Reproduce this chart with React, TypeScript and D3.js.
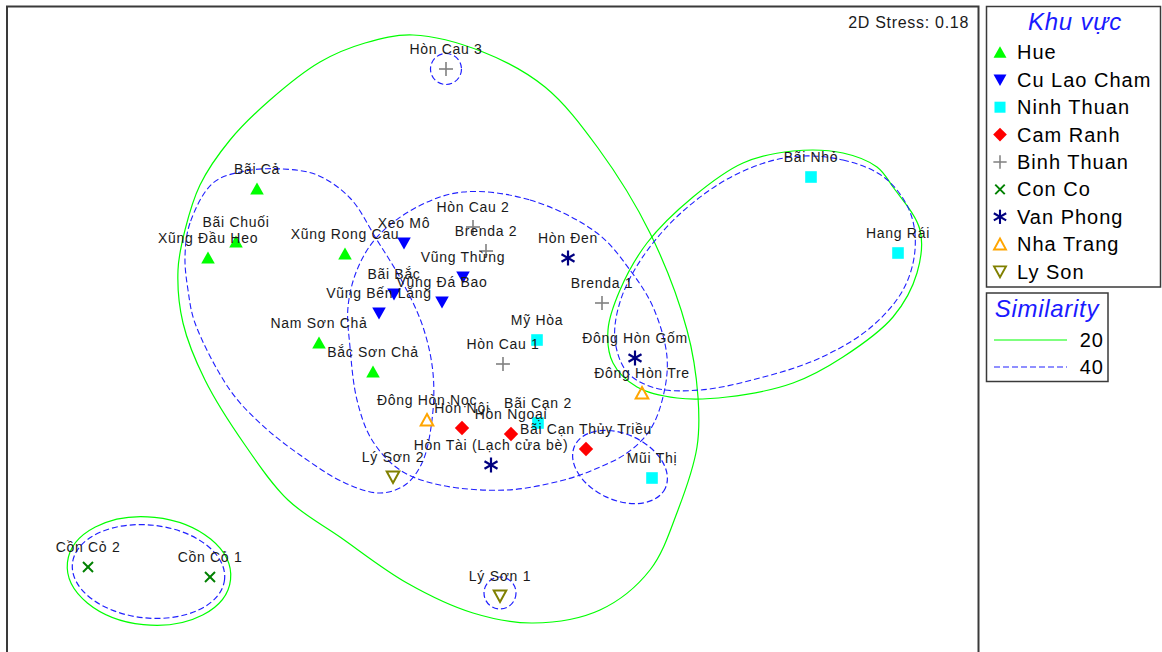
import React from 'react';
import * as d3 from 'd3';

// ---------- DATA ----------
const groupNames = ['Hue', 'Cu Lao Cham', 'Ninh Thuan', 'Cam Ranh', 'Binh Thuan', 'Con Co', 'Van Phong', 'Nha Trang', 'Ly Son'];

const siteNames = [
  'Bãi Cả', 'Bãi Chuối', 'Xũng Đầu Heo', 'Xũng Rong Cau', 'Nam Sơn Chả', 'Bắc Sơn Chả',
  'Xeo Mô', 'Bãi Bắc', 'Vũng Bến Lăng', 'Vũng Đá Bao', 'Vũng Thừng',
  'Mỹ Hòa', 'Bãi Nhỏ', 'Hang Rái', 'Mũi Thị', 'Bãi Cạn 2',
  'Hòn Nội', 'Hòn Ngoại', 'Bãi Cạn Thủy Triều',
  'Hòn Cau 3', 'Hòn Cau 2', 'Brenda 2', 'Brenda 1', 'Hòn Cau 1',
  'Cồn Cỏ 1', 'Cồn Cỏ 2',
  'Hòn Đen', 'Đông Hòn Gốm', 'Hòn Tài (Lạch cửa bè)',
  'Đông Hòn Nọc', 'Đông Hòn Tre',
  'Lý Sơn 2', 'Lý Sơn 1',
];
const siteGroups = [
  0, 0, 0, 0, 0, 0,
  1, 1, 1, 1, 1,
  2, 2, 2, 2, 2,
  3, 3, 3,
  4, 4, 4, 4, 4,
  5, 5,
  6, 6, 6,
  7, 7,
  8, 8,
];
const dim1 = [
  -2.43, -2.64, -2.92, -1.55, -1.81, -1.27,
  -0.96, -1.06, -1.21, -0.58, -0.37,
  0.37, 3.11, 3.98, 1.52, 0.38,
  -0.38, 0.11, 0.86,
  -0.54, -0.27, -0.14, 1.02, 0.03,
  -2.90, -4.12,
  0.68, 1.35, -0.09,
  -0.73, 1.42,
  -1.07, 0.0,
];
const dim2 = [
  1.41, 0.88, 0.72, 0.76, -0.13, -0.42,
  0.87, 0.36, 0.17, 0.28, 0.53,
  -0.10, 1.53, 0.77, -1.48, -0.93,
  -0.98, -1.04, -1.19,
  2.61, 1.03, 0.79, 0.27, -0.34,
  -2.47, -2.37,
  0.72, -0.28, -1.35,
  -0.90, -0.63,
  -1.47, -2.66,
];

const stressText = '2D Stress: 0.18';
const legendTitle = 'Khu vực';
const similarityTitle = 'Similarity';
const similarityLevels = ['20', '40'];

// Similarity contours (MDS units), smooth closed outlines
const contour20Outlines: [number, number][][] = [
  [
    [-0.87, 2.95], [-0.17, 2.78], [0.45, 2.43], [0.98, 1.82], [1.50, 0.97], [1.87, 0.0],
    [1.98, -0.67], [1.97, -1.17], [1.78, -1.80], [1.50, -2.40], [1.00, -2.80], [0.33, -2.93],
    [-0.27, -2.83], [-0.93, -2.53], [-1.60, -2.07], [-2.12, -1.70], [-2.55, -1.15], [-2.95, -0.50],
    [-3.17, 0.07], [-3.22, 0.60], [-3.15, 1.00], [-3.00, 1.45], [-2.70, 1.90], [-2.30, 2.30],
    [-1.80, 2.68], [-1.35, 2.87],
  ],
  [
    [2.93, 1.79], [3.43, 1.77], [3.77, 1.63], [3.93, 1.43], [4.20, 1.00], [4.17, 0.57],
    [3.93, 0.13], [3.43, -0.27], [2.93, -0.53], [2.27, -0.67], [1.77, -0.68], [1.37, -0.57],
    [1.13, -0.33], [1.08, 0.0], [1.20, 0.40], [1.47, 0.87], [1.93, 1.33], [2.43, 1.67],
  ],
];
const contour40Outlines: [number, number][][] = [
  [
    [-2.87, 1.47], [-3.10, 1.07], [-3.15, 0.73], [-3.12, 0.40], [-3.05, 0.07], [-2.70, -0.60],
    [-2.38, -0.95], [-2.00, -1.25], [-1.55, -1.53], [-1.20, -1.63], [-0.95, -1.55], [-0.78, -1.33],
    [-0.68, -0.90], [-0.67, -0.43], [-0.77, 0.03], [-0.97, 0.47], [-1.23, 0.90], [-1.50, 1.32],
    [-1.83, 1.55], [-2.17, 1.61], [-2.55, 1.59],
  ],
  [
    [-0.37, 1.38], [0.30, 1.30], [0.97, 0.97], [1.30, 0.60], [1.53, 0.23], [1.67, -0.27],
    [1.63, -0.67], [1.50, -1.00], [1.27, -1.23], [0.93, -1.40], [0.60, -1.51], [0.07, -1.60],
    [-0.60, -1.55], [-1.00, -1.40], [-1.28, -1.10], [-1.43, -0.70], [-1.50, -0.17], [-1.52, 0.23],
    [-1.43, 0.60], [-1.23, 0.93], [-0.83, 1.23],
  ],
  [
    [2.90, 1.73], [3.43, 1.70], [3.85, 1.52], [4.10, 1.18], [4.15, 0.80], [4.03, 0.40],
    [3.70, 0.02], [3.20, -0.28], [2.60, -0.48], [2.00, -0.60], [1.55, -0.58], [1.27, -0.42],
    [1.15, -0.10], [1.20, 0.28], [1.42, 0.72], [1.82, 1.18], [2.35, 1.55],
  ],
];
// elliptical contours: centre, radii (MDS units), tilt (deg)
const contour20Ellipses = [
  { cx: -3.51, cy: -2.41, rx: 0.82, ry: 0.54, tilt: 6 },
];
const contour40Ellipses = [
  { cx: -3.515, cy: -2.415, rx: 0.765, ry: 0.465, tilt: 6 },
  { cx: 1.20, cy: -1.37, rx: 0.50, ry: 0.33, tilt: 25 },
  { cx: -0.54, cy: 2.61, rx: 0.155, ry: 0.155, tilt: 0 },
  { cx: 0.0, cy: -2.63, rx: 0.16, ry: 0.16, tilt: 0 },
];

// ---------- STYLE ----------
const groupColors = ['#00ff00', '#0000ff', '#00ffff', '#ff0000', '#808080', '#008000', '#000080', '#ffa500', '#808000'];
const FONT = "'Liberation Sans', Arial, sans-serif";

function Marker({ g, x, y, s = 1 }: { g: number; x: number; y: number; s?: number }) {
  const c = groupColors[g];
  const t = `translate(${x},${y}) scale(${s})`;
  switch (g) {
    case 0:
      return <polygon transform={t} points="0,-6.5 6.8,5.5 -6.8,5.5" fill={c} />;
    case 1:
      return <polygon transform={t} points="0,6.5 6.8,-5.5 -6.8,-5.5" fill={c} />;
    case 2:
      return <rect transform={t} x={-5.8} y={-5.8} width={11.6} height={11.6} fill={c} />;
    case 3:
      return <polygon transform={t} points="0,-7.2 7.2,0 0,7.2 -7.2,0" fill={c} />;
    case 4:
      return (
        <g transform={t} stroke={c} strokeWidth={1.6} fill="none">
          <line x1={-7} y1={0} x2={7} y2={0} />
          <line x1={0} y1={-7} x2={0} y2={7} />
        </g>
      );
    case 5:
      return (
        <g transform={t} stroke={c} strokeWidth={2} fill="none">
          <line x1={-5} y1={-5} x2={5} y2={5} />
          <line x1={-5} y1={5} x2={5} y2={-5} />
        </g>
      );
    case 6:
      return (
        <g transform={t} stroke={c} strokeWidth={2.2} fill="none">
          <line x1={0} y1={-7.5} x2={0} y2={7.5} />
          <line x1={-6.5} y1={-3.75} x2={6.5} y2={3.75} />
          <line x1={-6.5} y1={3.75} x2={6.5} y2={-3.75} />
        </g>
      );
    case 7:
      return <polygon transform={t} points="0,-6 6.3,5.5 -6.3,5.5" fill="none" stroke={c} strokeWidth={2} />;
    default:
      return <polygon transform={t} points="0,6 6.3,-5.5 -6.3,-5.5" fill="none" stroke={c} strokeWidth={2} />;
  }
}

export default function App() {
  const xScale = d3.scaleLinear().domain([-4.93, 4.78]).range([7, 978]);
  const yScale = d3.scaleLinear().domain([3.24, -3.22]).range([6, 652]);
  const k = xScale(1) - xScale(0);

  const line = d3
    .line<[number, number]>()
    .x((d) => xScale(d[0]))
    .y((d) => yScale(d[1]))
    .curve(d3.curveCatmullRomClosed.alpha(0.5));

  const green = '#00ff00';
  const blue = '#2020ff';
  const dash = '6,3';

  const ellipse = (e: any, i: number, stroke: string, dashed: boolean) => {
    const cx = xScale(e.cx);
    const cy = yScale(e.cy);
    return (
      <ellipse
        key={i}
        cx={cx}
        cy={cy}
        rx={e.rx * k}
        ry={e.ry * k}
        transform={`rotate(${e.tilt} ${cx} ${cy})`}
        fill="none"
        stroke={stroke}
        strokeWidth={1.2}
        strokeDasharray={dashed ? dash : undefined}
      />
    );
  };

  const legendY = (i: number) => 52.4 + i * 27.4;

  return (
    <svg
      width={1162}
      height={652}
      style={{ position: 'absolute', left: 0, top: 0, background: '#fff' }}
      fontFamily={FONT}
    >
      <rect x={0} y={0} width={1162} height={652} fill="#fff" />
      {/* plot frame */}
      <rect x={7} y={6.5} width={971.5} height={700} fill="none" stroke="#3a3a3a" strokeWidth={2} />

      {/* contours */}
      <g>
        {contour20Outlines.map((pts, i) => (
          <path key={'g' + i} d={line(pts) || ''} fill="none" stroke={green} strokeWidth={1.2} />
        ))}
        {contour20Ellipses.map((e, i) => ellipse(e, i, green, false))}
        {contour40Outlines.map((pts, i) => (
          <path key={'b' + i} d={line(pts) || ''} fill="none" stroke={blue} strokeWidth={1.1} strokeDasharray={dash} />
        ))}
        {contour40Ellipses.map((e, i) => ellipse(e, 100 + i, blue, true))}
      </g>

      {/* markers */}
      <g>
        {siteNames.map((n, i) => (
          <Marker key={n} g={siteGroups[i]} x={xScale(dim1[i])} y={yScale(dim2[i])} />
        ))}
      </g>
      {/* labels */}
      <g fontSize={14} letterSpacing={0.7} fill="#1a1a1a" textAnchor="middle">
        {siteNames.map((n, i) => (
          <text key={n} x={xScale(dim1[i])} y={yScale(dim2[i]) - 15}>
            {n}
          </text>
        ))}
      </g>

      <text x={969} y={28} fontSize={16} letterSpacing={0.7} textAnchor="end" fill="#1a1a1a">
        {stressText}
      </text>

      {/* legend 1 */}
      <rect x={986.5} y={6.5} width={174} height={280.5} fill="#fff" stroke="#3a3a3a" strokeWidth={1.5} />
      <text x={1075} y={30} fontSize={24} fontStyle="italic" textAnchor="middle" fill="#1a1aff" letterSpacing={0.8}>
        {legendTitle}
      </text>
      {groupNames.map((n, i) => (
        <g key={n}>
          <Marker g={i} x={1000} y={legendY(i)} s={0.95} />
          <text x={1017} y={legendY(i) + 7} fontSize={20} letterSpacing={1} fill="#000">
            {n}
          </text>
        </g>
      ))}

      {/* legend 2 */}
      <rect x={986.5} y={293} width={121.5} height={88.5} fill="#fff" stroke="#3a3a3a" strokeWidth={1.5} />
      <text x={1047} y={317} fontSize={24} fontStyle="italic" textAnchor="middle" fill="#1a1aff" letterSpacing={0.7}>
        {similarityTitle}
      </text>
      {similarityLevels.map((lv, i) => (
        <g key={lv}>
          <line
            x1={994}
            x2={1067}
            y1={340 + i * 27}
            y2={340 + i * 27}
            stroke={i === 0 ? green : blue}
            strokeWidth={1.2}
            strokeDasharray={i === 0 ? undefined : dash}
          />
          <text x={1104} y={347 + i * 27} fontSize={20} textAnchor="end" letterSpacing={1} fill="#000">
            {lv}
          </text>
        </g>
      ))}
    </svg>
  );
}
